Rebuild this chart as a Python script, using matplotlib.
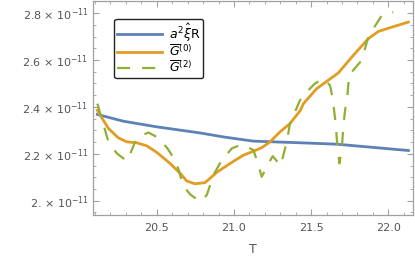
import matplotlib.pyplot as plt
from matplotlib.ticker import MultipleLocator, FuncFormatter

# values are in units of 1e-11
t_xi = [20.115, 20.284, 20.5, 20.78, 20.931, 21.126, 21.428, 21.666, 22.13]
xi_R = [2.368, 2.339, 2.315, 2.289, 2.272, 2.254, 2.247, 2.241, 2.214]

t_g0 = [20.115, 20.133, 20.187, 20.251, 20.306, 20.37, 20.435, 20.5, 20.586,
        20.651, 20.694, 20.748, 20.813, 20.889, 20.975, 21.061, 21.126, 21.18,
        21.234, 21.299, 21.363, 21.43, 21.45, 21.536, 21.676, 21.773, 21.87,
        21.935, 22.011, 22.13]
g0 = [2.386, 2.365, 2.308, 2.268, 2.251, 2.247, 2.234, 2.206, 2.159, 2.117,
      2.084, 2.072, 2.077, 2.121, 2.159, 2.194, 2.211, 2.226, 2.251, 2.294,
      2.329, 2.385, 2.414, 2.478, 2.545, 2.62, 2.691, 2.722, 2.738, 2.762]

t_g2 = [20.115, 20.165, 20.187, 20.241, 20.306, 20.338, 20.37, 20.446, 20.51,
        20.569, 20.619, 20.646, 20.668, 20.716, 20.78, 20.824, 20.867, 20.921,
        20.986, 21.051, 21.126, 21.148, 21.18, 21.216, 21.251, 21.303, 21.32,
        21.342, 21.363, 21.428, 21.46, 21.525, 21.579, 21.622, 21.64, 21.65,
        21.659, 21.666, 21.683, 21.698, 21.709, 21.72, 21.734, 21.747, 21.763,
        21.817, 21.849, 21.87, 21.903, 21.957, 22.011, 22.032]
g2 = [2.414, 2.301, 2.251, 2.202, 2.169, 2.216, 2.268, 2.291, 2.268, 2.223,
      2.173, 2.123, 2.067, 2.027, 1.996, 2.024, 2.109, 2.173, 2.223, 2.24,
      2.216, 2.173, 2.102, 2.149, 2.19, 2.149, 2.194, 2.251, 2.329, 2.429,
      2.457, 2.5, 2.521, 2.492, 2.436, 2.379, 2.329, 2.266, 2.159, 2.216,
      2.322, 2.386, 2.443, 2.542, 2.549, 2.591, 2.649, 2.698, 2.734, 2.79,
      2.804, 2.804]

blue = '#5E81B5'
orange = '#E19C24'
green = '#8FB032'
gray = '#555555'
frame = '#a0a0a0'

fig = plt.figure(figsize=(4.15, 2.59), dpi=100)
ax = fig.add_axes([0.2234, 0.17, 0.7711, 0.828])

ax.plot(t_xi, xi_R, color=blue, lw=2, label=r'$a^2\hat{\xi}$R')
ax.plot(t_g0, g0, color=orange, lw=2, label=r'$\overline{G}^{(0)}$')
ax.plot(t_g2, g2, color=green, lw=1.6, dashes=(5.9, 5.4), label=r'$\overline{G}^{(2)}$')

ax.set_xlim(20.085, 22.158)
ax.set_ylim(1.939, 2.854)

ax.xaxis.set_major_locator(MultipleLocator(0.5))
ax.xaxis.set_minor_locator(MultipleLocator(0.1))
ax.yaxis.set_major_locator(MultipleLocator(0.2))
ax.yaxis.set_minor_locator(MultipleLocator(0.05))
ax.xaxis.set_major_formatter(FuncFormatter(lambda v, p: f'{v:.1f}'))


def yfmt(v, p):
    s = f'{v:.1f}'
    if s.endswith('.0'):
        s = s[:-1]
    return s + ' × 10$^{-11}$'


ax.yaxis.set_major_formatter(FuncFormatter(yfmt))

ax.tick_params(which='both', direction='in', top=True, right=True,
               color=frame, labelcolor=gray, labelsize=8)
ax.tick_params(which='major', length=4, width=0.8)
ax.tick_params(which='minor', length=2.5, width=0.6)
ax.tick_params(axis='x', labeltop=False, pad=6)
ax.tick_params(axis='y', labelright=False, pad=3)
for s in ax.spines.values():
    s.set_color(frame)
    s.set_linewidth(0.9)

ax.set_xlabel('T', color=gray, fontsize=9, labelpad=7)

leg = ax.legend(loc='upper left', bbox_to_anchor=(0.048, 0.945), fontsize=9,
                handlelength=3.6, borderpad=0.25, labelspacing=0.02,
                handletextpad=0.5, fancybox=True, framealpha=1)
leg.get_frame().set_edgecolor('#222222')
leg.get_frame().set_linewidth(1.0)

fig.savefig('out.png', dpi=100)
